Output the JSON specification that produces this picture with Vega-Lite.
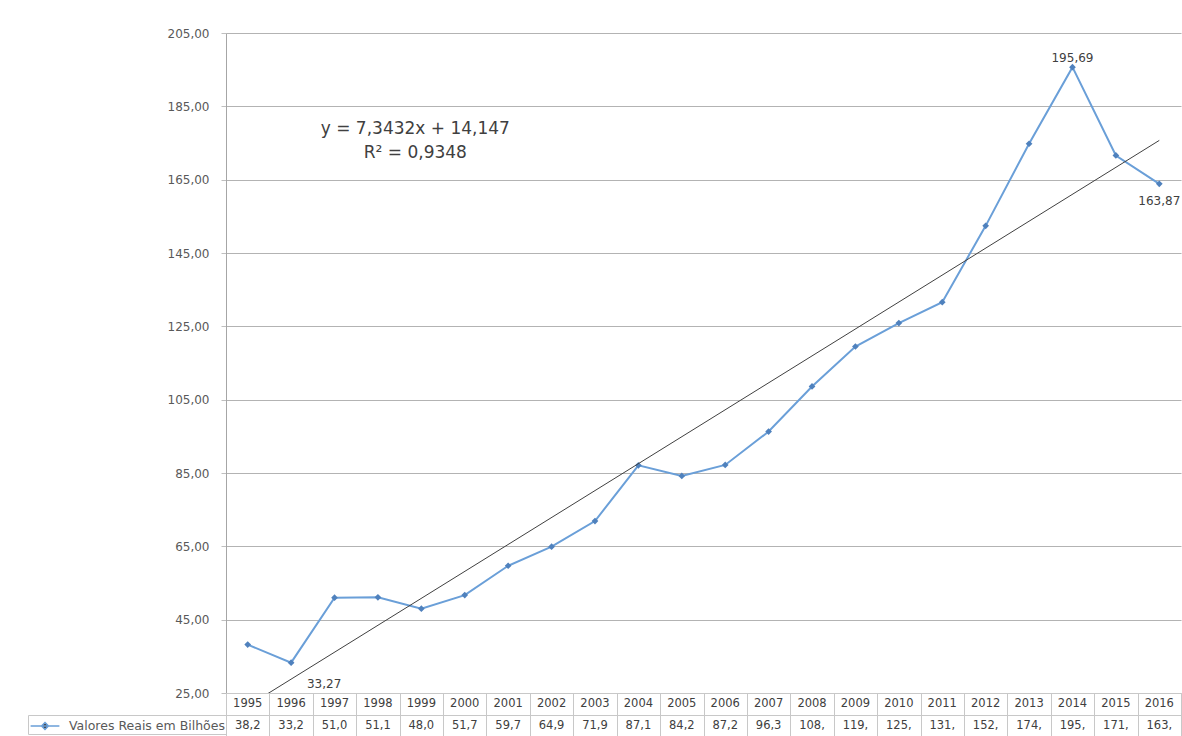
{
  "$schema": "https://vega.github.io/schema/vega-lite/v6.json",
  "padding": {"left": 27, "top": 27, "right": 0, "bottom": 0},
  "bounds": "flush",
  "spacing": 0,
  "background": "white",
  "config": {
    "font": "DejaVu Sans",
    "view": {"stroke": null},
    "locale": {"number": {"decimal": ",", "thousands": ".", "grouping": [3], "currency": ["R$", ""]}}
  },
  "datasets": {
    "serie": [
      {"ano": 1995, "valor": 38.2, "rotulo": "38,2"},
      {"ano": 1996, "valor": 33.27, "rotulo": "33,2"},
      {"ano": 1997, "valor": 51.0, "rotulo": "51,0"},
      {"ano": 1998, "valor": 51.1, "rotulo": "51,1"},
      {"ano": 1999, "valor": 48.0, "rotulo": "48,0"},
      {"ano": 2000, "valor": 51.7, "rotulo": "51,7"},
      {"ano": 2001, "valor": 59.7, "rotulo": "59,7"},
      {"ano": 2002, "valor": 64.9, "rotulo": "64,9"},
      {"ano": 2003, "valor": 71.9, "rotulo": "71,9"},
      {"ano": 2004, "valor": 87.1, "rotulo": "87,1"},
      {"ano": 2005, "valor": 84.2, "rotulo": "84,2"},
      {"ano": 2006, "valor": 87.2, "rotulo": "87,2"},
      {"ano": 2007, "valor": 96.3, "rotulo": "96,3"},
      {"ano": 2008, "valor": 108.6, "rotulo": "108,"},
      {"ano": 2009, "valor": 119.5, "rotulo": "119,"},
      {"ano": 2010, "valor": 125.9, "rotulo": "125,"},
      {"ano": 2011, "valor": 131.6, "rotulo": "131,"},
      {"ano": 2012, "valor": 152.4, "rotulo": "152,"},
      {"ano": 2013, "valor": 174.8, "rotulo": "174,"},
      {"ano": 2014, "valor": 195.69, "rotulo": "195,"},
      {"ano": 2015, "valor": 171.6, "rotulo": "171,"},
      {"ano": 2016, "valor": 163.87, "rotulo": "163,"}
    ]
  },
  "resolve": {"legend": {"color": "independent"}, "scale": {"x": "independent", "color": "independent"}},
  "vconcat": [
    {
      "width": 955,
      "height": 660,
      "data": {"name": "serie"},
      "encoding": {
        "x": {"field": "ano", "type": "ordinal", "scale": {"type": "point", "padding": 0.5}, "axis": null},
        "y": {
          "field": "valor",
          "type": "quantitative",
          "scale": {"domain": [25, 205], "nice": false, "zero": false},
          "axis": {
            "title": null,
            "values": [25, 45, 65, 85, 105, 125, 145, 165, 185, 205],
            "format": ".2f",
            "labelFontSize": 12,
            "labelColor": "#595959",
            "labelPadding": 12,
            "tickSize": 5,
            "tickColor": "#bfbfbf",
            "domainColor": "#a6a6a6",
            "gridColor": "#b3b3b3",
            "grid": true
          }
        }
      },
      "layer": [
        {"mark": {"type": "line", "color": "#6a9fd8", "strokeWidth": 2}},
        {"mark": {"type": "point", "shape": "diamond", "filled": true, "color": "#4f81bd", "size": 45, "opacity": 1}},
        {
          "transform": [{"regression": "valor", "on": "ano", "method": "linear"}],
          "mark": {"type": "line", "color": "#404040", "strokeWidth": 1, "clip": true}
        },
        {
          "transform": [{"filter": "datum.ano == 2014"}],
          "mark": {"type": "text", "fontSize": 12, "color": "#404040", "dy": -9},
          "encoding": {"text": {"field": "valor", "type": "quantitative", "format": ".2f"}}
        },
        {
          "transform": [{"filter": "datum.ano == 2016"}],
          "mark": {"type": "text", "fontSize": 12, "color": "#404040", "dy": 17},
          "encoding": {"text": {"field": "valor", "type": "quantitative", "format": ".2f"}}
        },
        {
          "transform": [{"filter": "datum.ano == 1996"}],
          "mark": {"type": "text", "fontSize": 12, "color": "#404040", "dy": 21, "dx": 33},
          "encoding": {"text": {"field": "valor", "type": "quantitative", "format": ".2f"}}
        },
        {
          "transform": [{"filter": "datum.ano == 1999"}],
          "mark": {"type": "text", "fontSize": 17, "color": "#404040", "lineHeight": 24, "dx": -6, "text": ["y = 7,3432x + 14,147", "R² = 0,9348"]},
          "encoding": {"y": {"datum": 178.8, "type": "quantitative"}}
        }
      ]
    },
    {
      "width": 955,
      "height": 22,
      "view": {"stroke": "#c8c8c8"},
      "data": {"name": "serie"},
      "mark": {"type": "text", "fontSize": 11.5, "color": "#404040"},
      "encoding": {
        "x": {
          "field": "ano",
          "type": "ordinal",
          "scale": {"type": "band", "paddingInner": 0, "paddingOuter": 0},
          "axis": {"title": null, "labels": false, "ticks": false, "domain": false, "grid": true, "tickBand": "extent", "gridColor": "#c8c8c8"}
        },
        "text": {"field": "ano", "type": "nominal"}
      }
    },
    {
      "width": 955,
      "height": 21,
      "view": {"stroke": "#c8c8c8"},
      "data": {"name": "serie"},
      "mark": {"type": "text", "fontSize": 11.5},
      "encoding": {
        "x": {
          "field": "ano",
          "type": "ordinal",
          "scale": {"type": "band", "paddingInner": 0, "paddingOuter": 0},
          "axis": {"title": null, "labels": false, "ticks": false, "domain": false, "grid": true, "tickBand": "extent", "gridColor": "#c8c8c8"}
        },
        "text": {"field": "rotulo", "type": "nominal"},
        "color": {
          "datum": "Valores Reais em Bilhões",
          "type": "nominal",
          "scale": {"range": ["#404040"]},
          "legend": {
            "orient": "left",
            "title": null,
            "offset": 0,
            "padding": 1,
            "symbolType": "M-1.6,0H1.6M0,-0.38L0.38,0L0,0.38L-0.38,0Z",
            "symbolSize": 324,
            "symbolStrokeWidth": 1.5,
            "symbolOffset": 6,
            "labelFontSize": 12.5,
            "labelColor": "#595959",
            "labelOffset": 14,
            "strokeColor": "#c8c8c8",
            "encode": {"symbols": {"update": {"fill": {"value": "#4f81bd"}, "stroke": {"value": "#6a9fd8"}, "opacity": {"value": 1}}}}
          }
        }
      }
    }
  ]
}
